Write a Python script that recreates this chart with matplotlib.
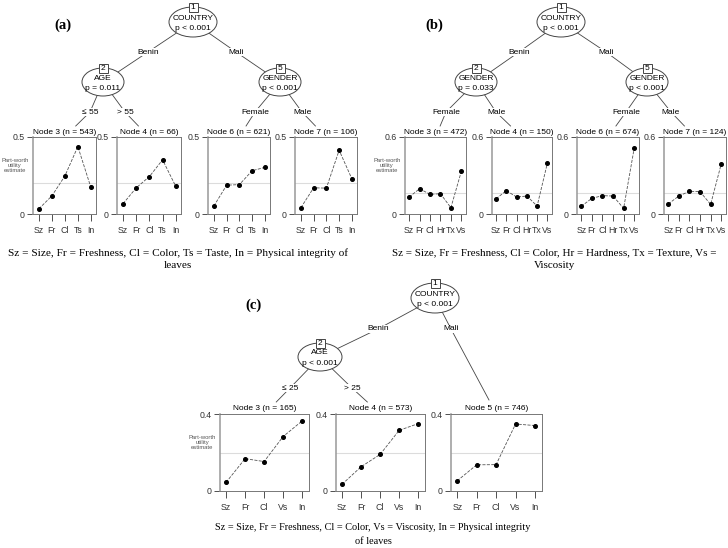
import numpy as np
import matplotlib
matplotlib.use('Agg')
import matplotlib.pyplot as plt
from matplotlib import patches

# ---- data ----
a_labels = ['Sz', 'Fr', 'Cl', 'Ts', 'In']
a_node3 = [0.034, 0.118, 0.247, 0.438, 0.174]
a_node4 = [0.067, 0.170, 0.243, 0.352, 0.180]
a_node6 = [0.052, 0.187, 0.191, 0.281, 0.303]
a_node7 = [0.041, 0.170, 0.168, 0.414, 0.228]
a_n = [543, 66, 621, 106]

b_labels = ['Sz', 'Fr', 'Cl', 'Hr', 'Tx', 'Vs']
b_node3 = [0.132, 0.197, 0.153, 0.158, 0.049, 0.332]
b_node4 = [0.119, 0.182, 0.132, 0.140, 0.062, 0.397]
b_node6 = [0.060, 0.122, 0.143, 0.140, 0.044, 0.514]
b_node7 = [0.078, 0.140, 0.177, 0.174, 0.075, 0.390]
b_n = [472, 150, 674, 124]

c_labels = ['Sz', 'Fr', 'Cl', 'Vs', 'In']
c_node3 = [0.045, 0.168, 0.153, 0.283, 0.364]
c_node4 = [0.035, 0.126, 0.190, 0.315, 0.350]
c_node5 = [0.053, 0.136, 0.137, 0.348, 0.340]
c_n = [165, 573, 746]

W, H = 728, 548
SANS = 'Liberation Sans'
SERIF = 'Liberation Serif'
LC = '#444444'

fig = plt.figure(figsize=(W / 100, H / 100), dpi=100)
ov = fig.add_axes([0, 0, 1, 1])
ov.set_xlim(0, W)
ov.set_ylim(H, 0)
ov.axis('off')


def inner(cx, cy, w, h, num, line1, line2):
    ov.add_patch(patches.Ellipse((cx, cy), w, h, fc='white', ec=LC, lw=0.7, zorder=3))
    top = cy - h / 2
    ov.add_patch(patches.Rectangle((cx - 4.5, top - 4.5), 9, 9, fc='white', ec=LC, lw=0.7, zorder=4))
    ov.text(cx, top + 0.3, str(num), ha='center', va='center', fontsize=6, family=SANS, zorder=5)
    ov.text(cx, cy - 4, line1, ha='center', va='center', fontsize=6, family=SANS, zorder=5)
    ov.text(cx, cy + 6.3, line2, ha='center', va='center', fontsize=6, family=SANS, zorder=5)


def edge(p, lab, q, text, stop_y=None):
    if stop_y is not None:
        t = (stop_y - lab[1]) / (q[1] - lab[1])
        q = (lab[0] + t * (q[0] - lab[0]), stop_y)
    ov.plot([p[0], lab[0], q[0]], [p[1], lab[1], q[1]], color=LC, lw=0.6, zorder=1)
    ov.text(lab[0], lab[1], text, ha='center', va='center', fontsize=6, family=SANS, zorder=2,
            bbox=dict(fc='white', ec='none', pad=0.6))


def panel(box, labels, values, ymax, node_id, n, xl, ylab=False):
    x0, x1, y0, y1 = box
    ax = fig.add_axes([x0 / W, 1 - y1 / H, (x1 - x0) / W, (y1 - y0) / H])
    xs = np.arange(1, len(values) + 1)
    ax.axhline(1 / len(values), color='#dcdcdc', lw=0.8, zorder=1)
    ax.plot(xs, values, ls='--', color='#555555', lw=0.6, marker='o', ms=2.6,
            mfc='black', mec='black', zorder=3)
    ax.set_xlim(*xl)
    ax.set_ylim(0, ymax)
    ax.set_yticks([0, ymax])
    ax.set_yticklabels(['0', f'{ymax:g}'])
    ax.set_xticks(xs)
    ax.set_xticklabels(labels)
    ax.tick_params(axis='y', length=4.5, width=0.6, pad=1.5, labelsize=6.3, colors='#333333')
    ax.tick_params(axis='x', length=5, width=0.6, pad=3.5, labelsize=6.3, colors='#333333')
    for lab in ax.get_xticklabels() + ax.get_yticklabels():
        lab.set_family(SANS)
    for s in ax.spines.values():
        s.set_color('#777777')
        s.set_linewidth(0.7)
    ax.spines['left'].set_linewidth(1.1)
    ax.spines['left'].set_color('#999999')
    ov.text((x0 + x1) / 2, y0 - 1.5, f'Node {node_id} (n = {n})', ha='center', va='bottom',
            fontsize=6, family=SANS)
    if ylab:
        ov.text(x0 - 18, (y0 + y1) / 2 - 10, 'Part-worth\nutility\nestimate', ha='center',
                va='center', fontsize=4.2, family=SANS, color='#555555', linespacing=1.1)
    return ax


# ---------------- panel (a) ----------------
ov.text(63, 25, '(a)', ha='center', va='center', fontsize=10.5, fontweight='bold', family=SERIF)
top_a = 137
edge((193, 22), (148, 52), (103, 82), 'Benin')
edge((193, 22), (236, 52), (280, 82), 'Mali')
inner(193, 22, 48, 30, 1, 'COUNTRY', 'p < 0.001')
a_boxes = [(33, 96), (117, 181), (208, 270), (295, 357)]
a_vals = [a_node3, a_node4, a_node6, a_node7]
a_ids = [3, 4, 6, 7]
a_parents = [(103, 82), (103, 82), (280, 82), (280, 82)]
a_edge_lab = [(90, 112), (125, 112), (255, 112), (302, 112)]
a_edge_txt = ['\u2264 55', '> 55', 'Female', 'Male']
for i in range(4):
    bx = a_boxes[i]
    edge(a_parents[i], a_edge_lab[i], ((bx[0] + bx[1]) / 2, top_a), a_edge_txt[i], stop_y=126)
    panel((bx[0], bx[1], top_a, 214), a_labels, a_vals[i], 0.5, a_ids[i], a_n[i],
          (0.54, 5.4), ylab=(i == 0))
inner(103, 82, 42, 28, 2, 'AGE', 'p = 0.011')
inner(280, 82, 42, 28, 5, 'GENDER', 'p < 0.001')
ov.text(178, 253, 'Sz = Size, Fr = Freshness, Cl = Color, Ts = Taste, In = Physical integrity of',
        ha='center', va='center', fontsize=8.1, family=SERIF)
ov.text(178, 265, 'leaves', ha='center', va='center', fontsize=8.1, family=SERIF)

# ---------------- panel (b) ----------------
ov.text(434, 25, '(b)', ha='center', va='center', fontsize=10.5, fontweight='bold', family=SERIF)
edge((561, 22), (519, 52), (476, 82), 'Benin')
edge((561, 22), (606, 52), (647, 82), 'Mali')
inner(561, 22, 48, 30, 1, 'COUNTRY', 'p < 0.001')
b_boxes = [(405, 466), (492, 552), (577, 639), (664, 726)]
b_vals = [b_node3, b_node4, b_node6, b_node7]
b_ids = [3, 4, 6, 7]
b_parents = [(476, 82), (476, 82), (647, 82), (647, 82)]
b_edge_lab = [(446, 112), (496, 112), (626, 112), (671, 112)]
b_edge_txt = ['Female', 'Male', 'Female', 'Male']
for i in range(4):
    bx = b_boxes[i]
    edge(b_parents[i], b_edge_lab[i], ((bx[0] + bx[1]) / 2, top_a), b_edge_txt[i], stop_y=126)
    panel((bx[0], bx[1], top_a, 214), b_labels, b_vals[i], 0.6, b_ids[i], b_n[i],
          (0.6, 6.45), ylab=(i == 0))
inner(476, 82, 42, 28, 2, 'GENDER', 'p = 0.033')
inner(647, 82, 42, 28, 5, 'GENDER', 'p < 0.001')
ov.text(554, 253, 'Sz = Size, Fr = Freshness, Cl = Color, Hr = Hardness, Tx = Texture, Vs =',
        ha='center', va='center', fontsize=7.9, family=SERIF)
ov.text(554, 265, 'Viscosity', ha='center', va='center', fontsize=7.9, family=SERIF)

# ---------------- panel (c) ----------------
ov.text(253, 305, '(c)', ha='center', va='center', fontsize=10.5, fontweight='bold', family=SERIF)
top_c = 414
c_boxes = [(220, 309), (336, 425), (451, 542)]
c_vals = [c_node3, c_node4, c_node5]
c_ids = [3, 4, 5]
edge((435, 298), (378, 329), (320, 357), 'Benin')
edge((435, 298), (451, 329), ((c_boxes[2][0] + c_boxes[2][1]) / 2, top_c), 'Mali', stop_y=400)
inner(435, 298, 48, 30, 1, 'COUNTRY', 'p < 0.001')
c_edge_lab = [(290, 388), (352, 388)]
c_edge_txt = ['\u2264 25', '> 25']
for i in range(2):
    bx = c_boxes[i]
    edge((320, 357), c_edge_lab[i], ((bx[0] + bx[1]) / 2, top_c), c_edge_txt[i], stop_y=402)
for i in range(3):
    bx = c_boxes[i]
    panel((bx[0], bx[1], top_c, 491), c_labels, c_vals[i], 0.4, c_ids[i], c_n[i],
          (0.68, 5.36), ylab=(i == 0))
inner(320, 357, 44, 28, 2, 'AGE', 'p < 0.001')
ov.text(373, 528, 'Sz = Size, Fr = Freshness, Cl = Color, Vs = Viscosity, In = Physical integrity',
        ha='center', va='center', fontsize=7.4, family=SERIF)
ov.text(373, 541, 'of leaves', ha='center', va='center', fontsize=7.4, family=SERIF)

fig.savefig('out.png', dpi=100)
